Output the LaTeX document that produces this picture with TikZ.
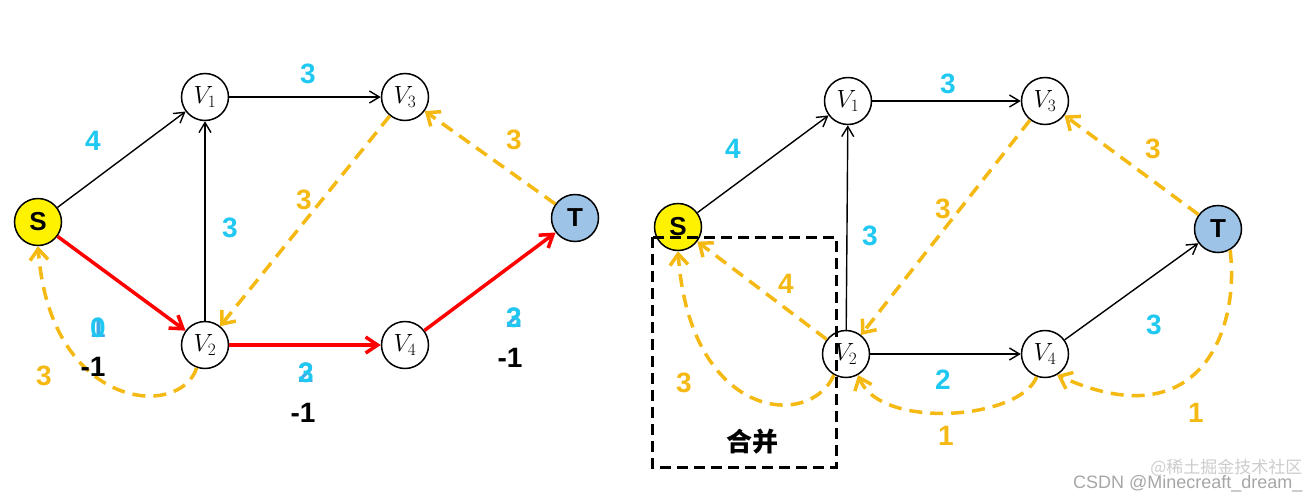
\documentclass[tikz,border=0pt]{standalone}
\usepackage{fontspec}
\setmainfont{Liberation Sans}
\newfontfamily\cjk{Noto Sans CJK SC}
\usetikzlibrary{arrows.meta}
\definecolor{cy}{HTML}{1FC8F0}
\definecolor{cyb}{HTML}{3FA8E8}
\definecolor{og}{HTML}{F5B914}
\definecolor{tb}{HTML}{9DC3E6}
\begin{document}
\begin{tikzpicture}[x=1pt,y=-1pt,
 vtx/.style={draw,circle,line width=1.5pt,minimum size=47pt,inner sep=0pt,font=\fontsize{26}{30}\selectfont},
 lab/.style={font=\fontsize{28}{32}\selectfont\bfseries},
 sl/.style={font=\fontsize{26}{30}\selectfont\bfseries},
 cl/.style={lab,text=cy},
 ol/.style={lab,text=og},
 bl/.style={lab,text=black},
 blk/.style={line width=1.4pt,-{Straight Barb[length=10pt,width=12pt]}},
 red/.style={draw=red,line width=3.5pt,-{Straight Barb[length=12pt,width=16pt,line width=3.5pt]}},
 od/.style={draw=og,line width=3.5pt,dash pattern=on 13pt off 8pt,-{Straight Barb[length=11pt,width=18pt,line width=3.5pt]}}]
\useasboundingbox (0,0) rectangle (1311,501);
% left graph
\node[vtx,fill=yellow,sl] (lS) at (38,222) {S};
\node[vtx] (l1) at (205,97) {$V_1$};
\node[vtx] (l3) at (405,97) {$V_3$};
\node[vtx,fill=tb,sl] (lT) at (575,218) {T};
\node[vtx] (l2) at (205,345) {$V_2$};
\node[vtx] (l4) at (405,345) {$V_4$};
\draw[blk] (lS) -- (l1);
\draw[blk] (l1) -- (l3);
\draw[blk] (l2) -- (l1);
\draw[od] (l3) -- (l2);
\draw[od] (lT) -- (l3);
\draw[red] (lS) -- (l2);
\draw[red] (l2) -- (l4);
\draw[red] (l4) -- (lT);
\draw[od] (l2.250) .. controls (180,420) and (50,410) .. (lS.270);
\node[cl] (a1) at (93,141) {4};
\node[cl] (a2) at (308,74) {3};
\node[cl] (a3) at (230,228) {3};
\node[ol] (a4) at (304,200) {3};
\node[ol] (a5) at (514,140) {3};
\node[ol] (a6) at (44,376) {3};
\node[cl,text=cyb] (a7b) at (98,328) {1};
\node[cl] (a7) at (98,328) {0};
\node[bl] (a8) at (93,367) {-1};
\node[cl,text=cyb] (a9b) at (306,373) {2};
\node[cl] (a9) at (306,373) {3};
\node[bl] (a10) at (303,413) {-1};
\node[cl,text=cyb] (a11b) at (514,318) {2};
\node[cl] (a11) at (514,318) {3};
\node[bl] (a12) at (510,358) {-1};
% right graph
\node[vtx,fill=yellow,sl] (rS) at (678,227) {S};
\node[vtx] (r1) at (848,101) {$V_1$};
\node[vtx] (r3) at (1045,101) {$V_3$};
\node[vtx,fill=tb,sl] (rT) at (1218,229) {T};
\node[vtx] (r2) at (846,354) {$V_2$};
\node[vtx] (r4) at (1045,354) {$V_4$};
\draw[blk] (rS) -- (r1);
\draw[blk] (r1) -- (r3);
\draw[blk] (r2) -- (r1);
\draw[blk] (r2) -- (r4);
\draw[blk] (r4) -- (rT);
\draw[od] (r3) -- (r2);
\draw[od] (rT) -- (r3);
\draw[od] (r2) -- (rS);
\draw[od] (r2.240) .. controls (810,430) and (690,420) .. (rS.270);
\draw[od] (r4.250) .. controls (1020,420) and (880,430) .. (r2.300);
\draw[od] (rT.300) .. controls (1240,330) and (1200,440) .. (r4.300);
\draw[black,line width=3pt,dash pattern=on 11pt off 6pt] (652,237) rectangle (836,467);
\node[font=\cjk\fontsize{26}{30}\selectfont\bfseries] (hb) at (752,442) {合并};
\node[cl] (b1) at (733,149) {4};
\node[cl] (b2) at (948,84) {3};
\node[cl] (b3) at (870,236) {3};
\node[ol] (b4) at (943,209) {3};
\node[ol] (b5) at (1153,149) {3};
\node[cl] (b6) at (943,380) {2};
\node[cl] (b7) at (1154,325) {3};
\node[ol] (b8) at (786,284) {4};
\node[ol] (b9) at (684,383) {3};
\node[ol] (b10) at (946,436) {1};
\node[ol] (b11) at (1196,413) {1};
\node[text=black!35,font=\fontsize{18}{20}\selectfont,anchor=east] (wm) at (1306,484) {CSDN @Minecreaft\_dream\_};
\node[text=black!20,font=\cjk\fontsize{17}{20}\selectfont,anchor=east] (wm2) at (1306,468) {@稀土掘金技术社区};
\end{tikzpicture}
\end{document}
